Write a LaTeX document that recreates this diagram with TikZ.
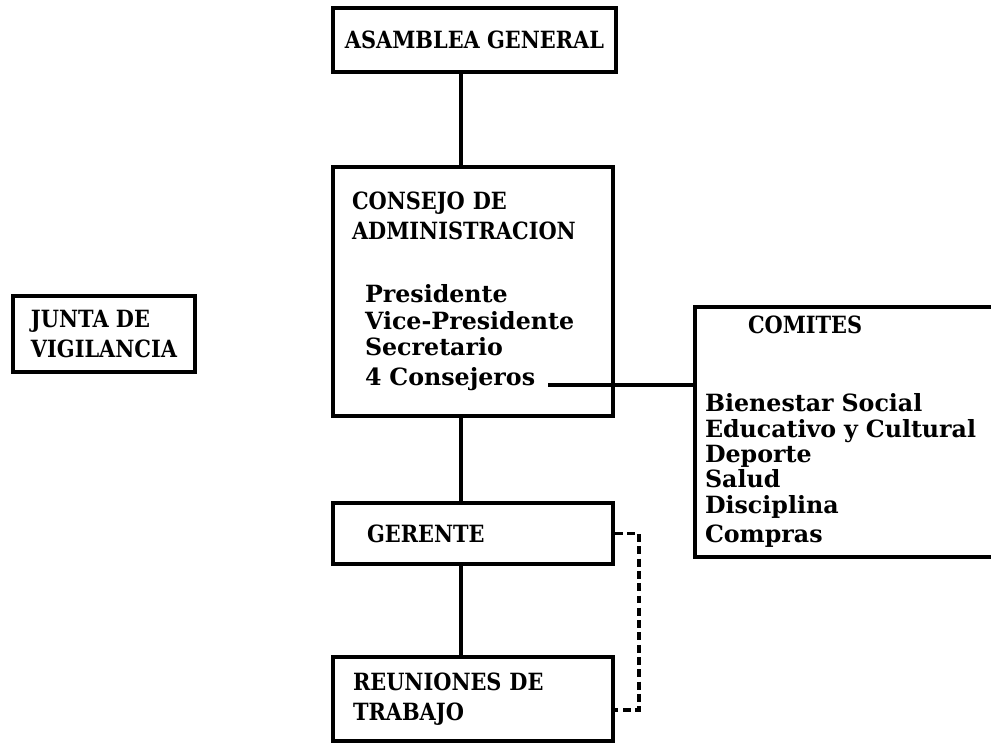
\documentclass[tikz,border=0pt]{standalone}
\usepackage{fontspec}
\setmainfont{DejaVu Serif}
\usepackage{tikz}
\usetikzlibrary{positioning,calc}
\tikzset{
  orgbox/.style={draw, line width=2.4pt, inner ysep=0pt, font=\bfseries\fontsize{13.5}{17}\selectfont\addfontfeatures{FakeStretch=0.88}},
  orgline/.style={line width=2.4pt},
  orgdash/.style={line width=2pt, dash pattern=on 4.5pt off 2.5pt}
}
\begin{document}
\begin{tikzpicture}[x=0.02cm, y=-0.02cm]
  \useasboundingbox (0,0) rectangle (991,743);
  \node[orgbox, minimum width=5.66cm, minimum height=1.28cm] (asamblea) at (474.5,40) {ASAMBLEA GENERAL};
  \node[orgbox, minimum width=5.6cm, minimum height=4.98cm, text width=4.84cm, inner xsep=0.38cm, align=left] (consejo) at (473,291.5)
    {CONSEJO DE\\ ADMINISTRACION\\[21pt]
     {\fontsize{13.5}{15}\selectfont\addfontfeatures{FakeStretch=1}\hspace*{0.26cm}Presidente\\ \hspace*{0.26cm}Vice-Presidente\\ \hspace*{0.26cm}Secretario\\ \hspace*{0.26cm}4 Consejeros}};
  \node[orgbox, minimum width=5.6cm, minimum height=1.22cm, text width=4.24cm, inner xsep=0.68cm, align=left] (gerente) at (473,533.5) {GERENTE};
  \node[orgbox, minimum width=5.6cm, minimum height=1.68cm, text width=4.8cm, inner xsep=0.4cm, align=left] (reuniones) at (473,699) {REUNIONES DE\\ TRABAJO};
  \node[orgbox, minimum width=3.64cm, minimum height=1.52cm, align=left] (junta) at (104,334) {JUNTA DE\\ VIGILANCIA};
  \node[orgbox, minimum width=6.2cm, minimum height=5cm, text width=5.8cm, inner xsep=0.2cm, align=left] (comites) at (850,432)
    {\hspace*{0.86cm}COMITES\\[30pt]
     {\fontsize{13.5}{14.4}\selectfont\addfontfeatures{FakeStretch=1}Bienestar Social\\ Educativo y Cultural\\ Deporte\\ Salud\\ Disciplina\\ Compras}};
  \coordinate (spine) at (461,0);
  \coordinate (consejeros) at (548,385);
  \draw[orgline] (asamblea.south -| spine) -- (consejo.north -| spine);
  \draw[orgline] (consejo.south -| spine) -- (gerente.north -| spine);
  \draw[orgline] (gerente.south -| spine) -- (reuniones.north -| spine);
  \draw[orgline] (consejeros) -- (consejeros -| comites.west);
  \draw[orgdash] (gerente.east) -- ++(24,0) |- ([yshift=-0.22cm]reuniones.east);
\end{tikzpicture}
\end{document}
